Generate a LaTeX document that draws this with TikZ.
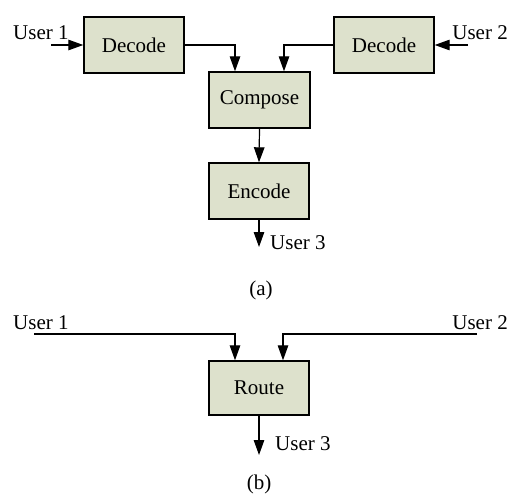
\documentclass[tikz,border=0pt]{standalone}
\usepackage{fontspec}
\setmainfont{Liberation Serif}
\usetikzlibrary{arrows.meta,calc}
\definecolor{boxfill}{RGB}{221,225,204}
\begin{document}
\begin{tikzpicture}[x=1pt,y=-1pt,
  every node/.style={font=\fontsize{21}{24}\selectfont},
  block/.style={draw, line width=1.4pt, fill=boxfill, minimum width=100pt,
    minimum height=56pt, inner sep=0pt},
  wire/.style={line width=1.2pt, -{Triangle[length=15pt,width=10.5pt]}},
  lbl/.style={inner sep=0pt}]
\useasboundingbox (0,0) rectangle (510,495);

% ---- (a) decode / compose / encode ----
\node[block] (decL) at (134,45) {Decode};
\node[block] (decR) at (384,45) {Decode};
\node[block, minimum width=101pt] (comp) at (259.5,100) {Compose};
\node[block] (enc) at (259,191) {Encode};

\coordinate (u1a) at (51,45);
\coordinate (u2a) at (468,45);
\coordinate (u3a) at (259,247);
\node[lbl, anchor=base west] (lu1a) at (13,39) {User 1};
\node[lbl, anchor=base east] (lu2a) at (508,39) {User 2};
\node[lbl, anchor=base west] (lu3a) at (270,249) {User 3};
\node[lbl, anchor=base] (capa) at (261,295) {(a)};

\draw[wire] (u1a) -- (decL.west);
\draw[wire] (u2a) -- (decR.east);
\draw[wire] (decL.east) -| ($(comp.north)+(-24.5,0)$);
\draw[wire] (decR.west) -| ($(comp.north)+(24.5,0)$);
\draw[wire] (comp.south) -- (enc.north);
\draw[wire] (enc.south) -- (u3a);

% ---- (b) route ----
\node[block, minimum height=54pt] (route) at (259,388) {Route};
\coordinate (u1b) at (34,334);
\coordinate (u2b) at (477,334);
\coordinate (u3b) at (259,455);
\node[lbl, anchor=base west] (lu1b) at (13,329) {User 1};
\node[lbl, anchor=base east] (lu2b) at (508,329) {User 2};
\node[lbl, anchor=base west] (lu3b) at (275,450) {User 3};
\node[lbl, anchor=base] (capb) at (259,489) {(b)};

\draw[wire] (u1b) -| ($(route.north)+(-24,0)$);
\draw[wire] (u2b) -| ($(route.north)+(24,0)$);
\draw[wire] (route.south) -- (u3b);
\end{tikzpicture}
\end{document}
